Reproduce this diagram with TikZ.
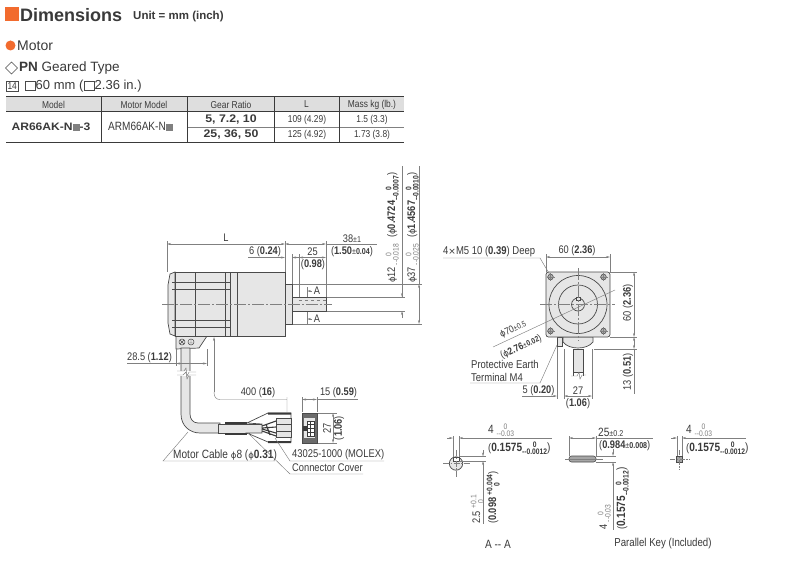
\documentclass[tikz,border=0pt]{standalone}
\usepackage{fontspec}
\setmainfont{Liberation Sans}
\newfontfamily\nar[FakeStretch=0.84]{Liberation Sans}
\newfontfamily\wid[FakeStretch=1.12]{Liberation Sans}
\newfontfamily\djv{DejaVu Sans}
\usetikzlibrary{arrows.meta}
\definecolor{ink}{HTML}{3A3A3A}
\definecolor{dimc}{HTML}{808080}
\definecolor{orng}{HTML}{F26B2E}
\definecolor{bodyf}{HTML}{E6E6E6}
\definecolor{hdr}{HTML}{DEDEDE}
\definecolor{edge}{HTML}{4A4A4A}
\newcommand\fs[1]{\fontsize{#1}{#1}\selectfont}
\newcommand\ph{{\djv\fontsize{8.5}{8.5}\selectfont ϕ}}
\newcommand\tl[2]{\begingroup\renewcommand\arraystretch{0.68}\fs{8}\setlength\tabcolsep{0pt}\begin{tabular}[c]{@{}c@{}}#1\\#2\end{tabular}\endgroup}
\newcommand\tb[2]{\begingroup\renewcommand\arraystretch{0.68}\fs{8}\bfseries\begin{tabular}[c]{@{}c@{}}#1\\#2\end{tabular}\endgroup}
\newcommand\gb{\textcolor{gray}{\rule[-0.5pt]{7pt}{7.5pt}}}
\tikzset{
 x=1pt,y=-1pt,
 lbl/.style={inner sep=0pt,text=ink,font=\nar\fs{11}},
 hd/.style={inner sep=0pt,text=ink,font=\nar\fs{10}},
 rt/.style={lbl,rotate=90},
 slim/.style={draw=dimc,line width=0.45pt},
 dm/.style={slim,{Stealth[length=4pt,width=2pt]}-{Stealth[length=4pt,width=2pt]}},
 ar/.style={slim,-{Stealth[length=4pt,width=2pt]}},
 cl/.style={draw=dimc,line width=0.4pt,dash pattern=on 12pt off 2pt on 2pt off 2pt},
 part/.style={draw=edge,fill=bodyf,line width=0.7pt},
}
\begin{document}
\begin{tikzpicture}
\useasboundingbox (0,0) rectangle (800,575);
\fill[white] (0,0) rectangle (800,575);
% heading
\fill[orng] (5,7) rectangle (19,21);
\node[anchor=west,inner sep=0pt,text=ink,font=\bfseries\fs{18}] (t1) at (20,15) {Dimensions};
\node[anchor=west,inner sep=0pt,text=ink,font=\bfseries\fs{11.5}] (t2) at (133,16.5) {Unit = mm (inch)};
\fill[orng] (10.5,45.5) circle (5);
\node[anchor=west,inner sep=0pt,text=ink,font=\fs{14}] (t3) at (17,45.5) {Motor};
\draw[edge,line width=0.5pt] (5.5,68)--(11.5,62)--(17.5,68)--(11.5,74)--cycle;
\node[anchor=west,inner sep=0pt,text=ink,font=\fs{13.5}] (t4) at (19,68) {\textbf{PN} Geared Type};
\draw[edge,line width=0.5pt] (6.5,81)rectangle(18,91);
\node[inner sep=0pt,text=ink,font=\nar\fs{10}] (t5) at (12.2,86) {14};
\draw[edge,line width=0.5pt] (25,81.5)rectangle(35,90.5);
\node[anchor=west,inner sep=0pt,text=ink,font=\fs{13}] (t6) at (35.5,86.5) {60 mm (};
\draw[edge,line width=0.5pt] (84,81.5)rectangle(94,90.5);
\node[anchor=west,inner sep=0pt,text=ink,font=\fs{13}] (t7) at (94.5,86.5) {2.36 in.)};
% table
\fill[hdr] (6,97) rectangle (404,111);
\draw[ink,line width=0.7pt] (6,96.5)--(404,96.5);
\draw[ink,line width=0.6pt] (6,111)--(404,111) (6,142.5)--(404,142.5);
\draw[dimc,line width=0.5pt] (187,127)--(404,127);
\draw[ink,line width=0.5pt] (101,97)--(101,142.5) (187,97)--(187,142.5) (274,97)--(274,142.5) (339,97)--(339,142.5);
\node[hd] (h1) at (53.5,104.5) {Model};
\node[hd] (h2) at (144,104.5) {Motor Model};
\node[hd] (h3) at (231,104.5) {Gear Ratio};
\node[hd] (h4) at (306.5,104.5) {L};
\node[hd] (h5) at (372,104.5) {Mass kg (lb.)};
\node[inner sep=0pt,text=ink,font=\wid\bfseries\fs{10.8}] (c1) at (51,127) {AR66AK-N\gb-3};
\node[hd,font=\nar\fs{12}] (c2) at (140.5,127) {ARM66AK-N\gb};
\node[inner sep=0pt,text=ink,font=\wid\bfseries\fs{11}] (c3) at (231,119.5) {5, 7.2, 10};
\node[inner sep=0pt,text=ink,font=\wid\bfseries\fs{11}] (c4) at (231,135) {25, 36, 50};
\node[hd] (c5) at (307,120) {109 (4.29)};
\node[hd] (c6) at (307,135) {125 (4.92)};
\node[hd] (c7) at (372,120) {1.5 (3.3)};
\node[hd] (c8) at (372,135) {1.73 (3.8)};
% motor side view
\draw[slim] (292,284)--(422,284) (292,324)--(422,324) (326,297)--(405,297) (326,311)--(405,311);
\draw[part] (176,336)--(207,336)--(199,348)--(176,349)--cycle;
\draw[edge,line width=0.5pt] (182,342) circle (3) (191,342) circle (3);
\draw[edge,line width=0.4pt] (180,340)--(184,344) (184,340)--(180,344) (191,339)--(191,343) (189,343)--(193,343);
\draw[part] (175,272) -- (170,274) -- (168,285) -- (168,323) -- (170,334) -- (175,336) -- cycle;
\draw[part] (175,272) rectangle (237,336);
\draw[part] (237,272) rectangle (285,336);
\draw[part] (285,284) rectangle (292,324);
\draw[part] (292,297) rectangle (326,311);
\draw[edge,line width=0.7pt] (195,272)--(195,336) (225,272)--(225,336) (230,272)--(230,336) (172,282)--(230,282) (172,289)--(230,289) (172,320)--(230,320) (172,327)--(230,327);
\draw[dimc,line width=0.4pt,dashed] (299,300)--(326,300);
\draw[cl] (162,304.5)--(332,304.5);
% side dimensions
\draw[slim] (167,241)--(167,272) (285,241)--(285,272) (292,254)--(292,284) (299,254)--(299,297) (326,241)--(326,297);
\draw[dm] (167,244)--(285,244);
\node[lbl] (dL) at (226,238) {L};
\draw[dm] (285,244)--(326,244);
\draw[slim] (326,244)--(377,244);
\node[lbl] (d38) at (352,238.5) {38{\fs{8.5}±1}};
\node[lbl] (d38b) at (352,252) {(\textbf{1.50}{\fs{8.5}±\textbf{0.04}})};
\draw[slim] (248,257.5)--(278,257.5);
\draw[ar] (276,257.5)--(285,257.5);
\draw[ar] (301,257.5)--(292,257.5);
\node[lbl] (d6) at (265,251.5) {6 (\textbf{0.24})};
\draw[dm] (299,257.5)--(326,257.5);
\node[lbl] (d25) at (312.5,251.5) {25};
\node[lbl] (d25b) at (313,265) {(\textbf{0.98})};
\draw[slim] (402,166)--(402,297) (419,166)--(419,284);
\draw[ar] (402,290)--(402,297);
\draw[ar] (402,318)--(402,311);
\draw[dm] (419,284)--(419,324);
\node[rt,anchor=west] (p1) at (393,283) {\ph12\,\textcolor{dimc}{\tl{0}{--0.018}}};
\node[rt,anchor=west] (p2) at (393,238) {(\ph\textbf{0.4724}\tb{0}{--0.0007})};
\node[rt,anchor=west] (p3) at (413,283) {\ph37\,\textcolor{dimc}{\tl{0}{--0.025}}};
\node[rt,anchor=west] (p4) at (413,238) {(\ph\textbf{1.4567}\tb{0}{--0.0010})};
% section marks
\draw[slim] (307,287)--(307,297) (307,312)--(307,325);
\draw[ar] (312,291)--(307,291);
\draw[ar] (312,319)--(307,319);
\node[lbl] (A1) at (317,291) {A};
\node[lbl] (A2) at (317,319) {A};
% cable
\path[part] (181,348) -- (181,414) .. controls (181,426) and (190,433) .. (200,433) -- (220,433) -- (220,423) -- (198,423) .. controls (193,423) and (190,419) .. (190,414) -- (190,348) -- cycle;
\fill[white] (178,371) rectangle (193,376);
\draw[slim] (177,371)--(184,371)--(186,368)--(187,376)--(189,372)--(196,372);
\draw[slim] (177,375)--(183,375)--(186,372)--(187,379)--(189,375)--(196,375);
\draw[part] (218,424) rectangle (262,433);
\draw[ink,line width=1.6pt] (225,423)--(247,423) (225,434)--(247,434);
\draw[part,fill=white] (247,423)--(268,413)--(291,413)--(291,442)--(268,442)--(247,433)--(262,433)--(262,424)--cycle;
\fill[ink] (268,412.5) rectangle (291,414.5) (268,441) rectangle (291,443);
\draw[edge,fill=bodyf,line width=0.6pt] (276,418) rectangle (291,424) (276,424) rectangle (291,431) (276,431) rectangle (291,437);
\draw[ink,line width=1.1pt] (262,426)--(276,421) (262,428)--(276,427) (262,429)--(276,433) (262,431)--(276,436) (266,424)--(270,435);
% connector end
\draw[edge,fill=ink!75,line width=0.6pt] (302,413) rectangle (317,443);
\fill[bodyf] (304,418) rectangle (315,438);
\fill[ink] (303,426) rectangle (307,431);
\draw[ink,line width=0.4pt,fill=white] (307,421) rectangle (314,436);
\draw[ink,line width=0.4pt] (307,424.5)--(314,424.5) (307,428.5)--(314,428.5) (307,432)--(314,432) (310.5,421)--(310.5,436);
% cable dims
\draw[slim] (214,392) .. controls (214,397) and (216,399.5) .. (220,399.5) -- (287,399.5) (287,397)--(287,412);
\draw[ar] (214,392)--(214,337);
\node[lbl] (d400) at (258,393) {400 (\textbf{16})};
\draw[slim] (302,397)--(302,412) (317,397)--(317,412) (317,399.5)--(358,399.5);
\draw[dm] (302,399.5)--(317,399.5);
\node[lbl] (d15) at (338.5,393) {15 (\textbf{0.59})};
\draw[slim] (318,413)--(337,413) (318,443)--(337,443);
\draw[dm] (333,413)--(333,443);
\node[rt] (d27) at (327,428) {27};
\node[rt] (d106) at (339,428) {(\textbf{1.06})};
\draw[slim] (127,363.5)--(177,363.5) (176,349)--(176,366) (207,349)--(207,366);
\draw[dm] (176,363.5)--(207,363.5);
\node[lbl] (d285) at (149.5,357.5) {28.5 (\textbf{1.12})};
\draw[slim] (188,432)--(163,461)--(275,461);
\node[lbl,anchor=west,font=\nar\fs{12}] (mc) at (173,455) {Motor Cable \ph8 (\ph\textbf{0.31})};
\draw[slim] (275,438)--(290,461)--(384,461);
\node[lbl,anchor=west,font=\nar\fs{11.2}] (mo) at (292,455) {43025-1000 (MOLEX)};
\draw[slim] (248,433)--(290,474)--(363,474);
\node[lbl,anchor=west,font=\nar\fs{11.1}] (cc) at (292,468) {Connector Cover};
% front view
\draw[part] (563,337) -- (563,342) .. controls (566,346) and (572,348) .. (578,348) .. controls (584,348) and (590,346) .. (593,342) -- (593,337) -- cycle;
\draw[part] (557,337) rectangle (562,346);
\path[part] (573,349) rectangle (583,372);
\draw[edge,line width=0.7pt] (573,372)--(573,376) (583,372)--(583,376);
\draw[slim] (571,376)--(577,376)--(579,372)--(580,379)--(582,375)--(586,375);
\draw[part,rounded corners=2.5pt] (546,272) rectangle (610,337);
\draw[edge,line width=0.7pt] (578,304.5) circle (29) (578,304.5) circle (19.5);
\draw[edge,line width=0.7pt] (578,304.5) circle (6.5);
\draw[edge,fill=bodyf,line width=0.6pt] (576,297) rectangle (580,300);
\foreach \a/\b in {550.5/277,603.5/277,550.5/331,603.5/331}{
 \draw[edge,fill=gray!60,line width=0.6pt] (\a,\b) circle (2.8);
 \draw[dimc,line width=0.3pt] (\a-4,\b)--(\a+4,\b) (\a,\b-4)--(\a,\b+4);
}
\draw[cl] (540,304.5)--(615,304.5) (578,268)--(578,341);
\draw[slim] (493,347)--(615,290);
\node[lbl,rotate=25,font=\nar\fs{10}] (d70) at (513,329.5) {\ph70{\fs{8}±0.5}};
\node[lbl,rotate=25,font=\nar\fs{10}] (d276) at (521,347) {(\ph\textbf{2.76}{\fs{8}±\textbf{0.02}})};
\draw[slim] (546,254)--(546,272) (610,254)--(610,272) (610,272)--(637,272) (610,337)--(637,337) (594,349)--(637,349);
\draw[dm] (546,257)--(610,257);
\node[lbl] (dt) at (577,251) {60 (\textbf{2.36})};
\draw[dm] (634,272)--(634,337);
\draw[dm] (634,337)--(634,349);
\draw[slim] (634,349)--(634,394);
\node[rt] (dr) at (628,303) {60 (\textbf{2.36})};
\node[rt] (dr2) at (628,372) {13 (\textbf{0.51})};
\draw[slim] (443,258)--(540,258)--(550,275);
\node[lbl,anchor=west,font=\nar\fs{11.3}] (m5) at (443,252) {4{\djv\fs{9}×}M5 10 (\textbf{0.39}) Deep};
\draw[slim] (470,383)--(540,383)--(557,345);
\node[lbl,anchor=west,font=\nar\fs{11.3}] (pe1) at (471,364) {Protective Earth};
\node[lbl,anchor=west,font=\nar\fs{11.3}] (pe2) at (471,377) {Terminal M4};
\draw[slim] (557,347)--(557,399) (564,349)--(564,399) (592,349)--(592,399);
\draw[slim] (522,396)--(552,396);
\draw[ar] (550,396)--(557,396);
\draw[dm] (564,396)--(592,396);
\node[lbl] (d5) at (538.5,390.5) {5 (\textbf{0.20})};
\node[lbl] (d27f) at (578,390.5) {27};
\node[lbl] (d106f) at (578,404) {(\textbf{1.06})};
% A-A
\draw[edge,fill=bodyf,line width=0.7pt] (456,463.5) circle (6.7);
\draw[edge,fill=white,line width=0.5pt] (453,457) rectangle (459,461);
\draw[cl,dash pattern=on 6pt off 1.5pt on 1.5pt off 1.5pt] (443,463.5)--(470,463.5) (456,450)--(456,477);
\draw[slim] (453,436)--(453,457) (459,436)--(459,457) (459,456.5)--(486,456.5) (459,461)--(486,461);
\draw[ar] (447,438)--(453,438);
\draw[ar] (465,438)--(459,438);
\draw[slim] (465,438)--(552,438);
\draw[ar] (483,450)--(483,456.5);
\draw[ar] (483,467)--(483,461);
\draw[slim] (483,467)--(483,524);
\node[lbl,anchor=west] (a1) at (488,431) {\fs{12}4 \textcolor{dimc}{\tl{0}{--0.03}}};
\node[lbl,anchor=west] (a2) at (488,449) {(\fs{12}\textbf{0.1575}\tb{0}{--0.0012})};
\node[rt,anchor=west] (a3) at (478,524) {2.5 \textcolor{dimc}{\tl{+0.1}{0}}};
\node[rt,anchor=west] (a4) at (494,524) {(\textbf{0.098}\ \tb{+0.004}{0})};
\node[lbl,font=\nar\fs{12}] (aa) at (498,544) {A -- A};
% parallel key
\draw[edge,fill=gray!70,line width=0.6pt,rounded corners=2.5pt] (569,456) rectangle (596,462);
\draw[dimc,line width=0.3pt] (565,459)--(603,459);
\draw[slim] (569,436)--(569,456) (596,436)--(596,456) (596,456)--(616,456) (596,462)--(616,462) (596,438)--(653,438);
\draw[dm] (569,438)--(596,438);
\node[lbl,anchor=west] (k1) at (598,432.5) {\fs{12}25{\fs{8.5}±0.2}};
\node[lbl,anchor=west] (k2) at (599,446) {(\textbf{0.984}{\fs{8.5}±\textbf{0.008}})};
\draw[ar] (613,449)--(613,456);
\draw[ar] (613,469)--(613,462);
\draw[slim] (613,469)--(613,530);
\node[rt,anchor=west] (k3) at (605,530) {4 \textcolor{dimc}{\tl{0}{--0.03}}};
\node[rt,anchor=west] (k4) at (623,530) {(\fs{12}\textbf{0.1575}\tb{0}{--0.0012})};
\node[lbl,font=\nar\fs{11.5}] (pk) at (663,544) {Parallel Key (Included)};
% key end
\draw[edge,fill=gray!70,line width=0.6pt] (676.5,456.5) rectangle (682,462);
\draw[cl,dash pattern=on 5pt off 1.5pt on 1.5pt off 1.5pt] (670,459)--(690,459) (679,450)--(679,470);
\draw[slim] (677,436)--(677,456) (682,436)--(682,456) (688,438)--(746,438);
\draw[ar] (671,438)--(677,438);
\draw[ar] (688,438)--(682,438);
\node[lbl,anchor=west] (e1) at (686,431) {\fs{12}4 \textcolor{dimc}{\tl{0}{--0.03}}};
\node[lbl,anchor=west] (e2) at (686,449) {(\fs{12}\textbf{0.1575}\tb{0}{--0.0012})};
\end{tikzpicture}
\end{document}
